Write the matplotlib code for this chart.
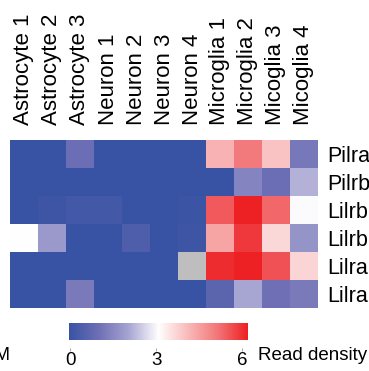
import numpy as np
import matplotlib
matplotlib.use("Agg")
import matplotlib.pyplot as plt
from matplotlib.colors import LinearSegmentedColormap

plt.rcParams['font.family'] = ['Liberation Sans', 'DejaVu Sans']

samples = ["Astrocyte 1", "Astrocyte 2", "Astrocyte 3",
           "Neuron 1", "Neuron 2", "Neuron 3", "Neuron 4",
           "Microglia 1", "Microglia 2", "Micoglia 3", "Micoglia 4"]
# gene names as far as they show (cut at the right edge)
genes = ["Pilra", "Pilrb", "Lilrb", "Lilrb", "Lilra", "Lilra"]

# read density per gene (rows) and sample (columns), nan = no data
pilra = [0, 0, 0.95, 0, 0, 0, 0, 4.1, 4.9, 3.85, 1.15]
pilrb = [0, 0, 0, 0, 0, 0, 0, 0, 1.4, 0.95, 2.15]
lilrb_a = [0, 0.1, 0.2, 0.2, 0, 0, 0.05, 5.3, 6, 5.15, 2.97]
lilrb_b = [3.0, 1.8, 0, 0, 0.4, 0, 0.1, 4.3, 5.7, 3.55, 1.7]
lilra_a = [0, 0, 0, 0, 0, 0, np.nan, 5.85, 6, 5.4, 3.6]
lilra_b = [0, 0, 1.2, 0, 0, 0, 0, 0.65, 2.0, 1.0, 1.2]

data = np.array([pilra, pilrb, lilrb_a, lilrb_b, lilra_a, lilra_b])

cmap = LinearSegmentedColormap.from_list(
    "bwr_custom",
    [(0, "#3953a4"), (1/6, "#6f70b5"), (2/6, "#a7a5d2"), (0.5, "#ffffff"),
     (4/6, "#f9b9ba"), (5/6, "#f37577"), (1, "#ed2024")])
cmap.set_bad("#bebebe")

W, H = 369, 371
fig = plt.figure(figsize=(W/100, H/100), dpi=100)

ax = fig.add_axes([10/W, (H-308)/H, 308/W, 168/H])
ax.imshow(np.ma.masked_invalid(data), cmap=cmap, vmin=0, vmax=6,
          aspect='auto', interpolation='nearest')
ax.set_xticks(range(len(samples)))
ax.set_xticklabels(samples, rotation=90, fontsize=16, va='bottom', ha='center')
ax.set_yticks(range(len(genes)))
ax.set_yticklabels(genes, fontsize=15.5)
ax.xaxis.tick_top()
ax.yaxis.tick_right()
ax.tick_params(axis='x', length=0, pad=10.8)
ax.tick_params(axis='y', length=0, pad=7)
for s in ax.spines.values():
    s.set_visible(False)

cax = fig.add_axes([69/W, (H-340)/H, 179/W, 17/H])
grad = np.linspace(0, 6, 256).reshape(1, -1)
cax.imshow(grad, cmap=cmap, vmin=0, vmax=6, aspect='auto',
           extent=[-0.04, 6.2, 0, 1])
cax.set_xlim(-0.04, 6.2)
for s in cax.spines.values():
    s.set_visible(False)
cax.spines['bottom'].set_position(('outward', 6))
cax.set_yticks([])
cax.set_xticks([0, 3, 6])
cax.set_xticklabels(["0", "3", "6"])
cax.tick_params(axis='x', length=2, color='#aaaaaa', pad=0.5, labelsize=13.5)

fig.text(258/W, (H-355)/H, "Read density", fontsize=13.5, va='center', ha='left')
fig.text(11/W, (H-355)/H, "RPKM", fontsize=13.5, va='center', ha='right')

fig.savefig("out.png", dpi=100)
